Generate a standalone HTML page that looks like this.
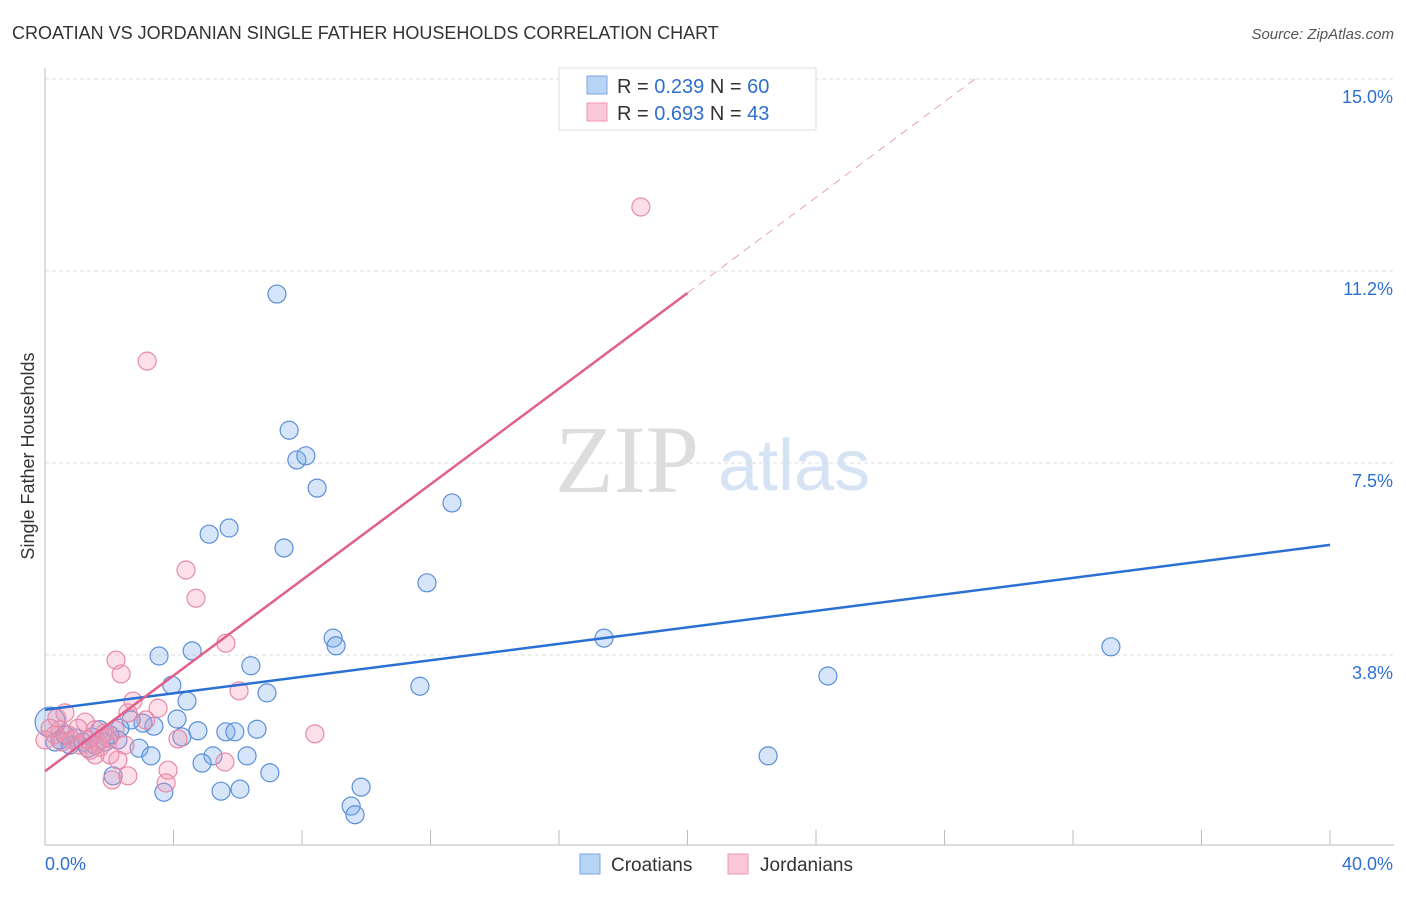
<!DOCTYPE html>
<html><head><meta charset="utf-8"><style>
body{margin:0;background:#fff;font-family:"Liberation Sans",sans-serif}
svg text{font-family:"Liberation Sans",sans-serif}
</style></head><body>
<svg id="c" width="1406" height="892">
<text x="12" y="39" font-size="18" fill="#333">CROATIAN VS JORDANIAN SINGLE FATHER HOUSEHOLDS CORRELATION CHART</text>
<text x="1394" y="39" font-size="15" fill="#555" font-style="italic" text-anchor="end">Source: ZipAtlas.com</text>
<text x="34" y="456" font-size="18" fill="#333" text-anchor="middle" transform="rotate(-90 34 456)">Single Father Households</text>
<g>
<text x="555" y="492" font-size="96" fill="#ddd" font-family="Liberation Serif" style="font-family:'Liberation Serif',serif">ZIP</text>
<text x="718" y="490" font-size="72" fill="#d5e3f5">atlas</text></g>
<g id="grid"></g><g id="axes"></g><g id="pts"></g><g id="lines"></g>
<g>
<rect x="559" y="68" width="257" height="62" fill="#fff" stroke="#ddd"/>
<rect x="587" y="76" width="20" height="18" fill="#b8d4f5" stroke="#7aa6e0"/>
<rect x="587" y="103" width="20" height="18" fill="#fac8d8" stroke="#ee9ab6"/>
<text x="617" y="93" font-size="20" fill="#333">R = <tspan fill="#2f6fd0">0.239</tspan>   N = <tspan fill="#2f6fd0">60</tspan></text>
<text x="617" y="120" font-size="20" fill="#333">R = <tspan fill="#2f6fd0">0.693</tspan>   N = <tspan fill="#2f6fd0">43</tspan></text>
</g>
<g>
<rect x="580" y="854" width="20" height="20" fill="#b8d4f5" stroke="#7aa6e0"/>
<text x="611" y="871" font-size="19" fill="#333">Croatians</text>
<rect x="728" y="854" width="20" height="20" fill="#fac8d8" stroke="#ee9ab6"/>
<text x="760" y="871" font-size="19" fill="#333">Jordanians</text>
</g>
</svg>
<script>
const yTicks=[3.75,7.5,11.25,15];
const yTickLabels=["3.8%","7.5%","11.2%","15.0%"];
const xTicks=[0,4,8,12,16,20,24,28,32,36,40];
const blueX=[7.22,7.60,7.84,8.12,8.47,12.67,5.11,5.73,7.44,11.89,17.40,33.18,8.97,9.06,3.55,4.58,6.41,3.95,4.42,6.91,11.67,24.37,22.51,4.11,4.76,5.63,5.91,6.60,4.26,3.39,3.05,2.68,2.33,2.27,1.71,1.46,2.93,3.30,5.23,6.29,4.89,7.00,2.12,3.70,5.48,6.07,9.84,9.53,9.65,0.16,0.31,0.47,0.78,0.93,1.18,1.34,1.56,1.87,0.62,2.02];
const blueY=[10.80,8.14,7.56,7.64,7.01,6.72,6.11,6.23,5.84,5.16,4.08,3.91,4.08,3.93,3.73,3.83,3.54,3.16,2.85,3.01,3.14,3.34,1.78,2.50,2.27,2.25,2.25,2.30,2.15,2.36,2.42,2.48,2.32,2.09,2.29,2.15,1.93,1.78,1.78,1.78,1.64,1.45,1.39,1.07,1.09,1.13,1.17,0.80,0.63,2.44,2.05,2.09,1.99,2.13,2.05,1.93,1.99,2.05,2.19,2.19];
const pinkX=[18.55,3.18,4.39,4.70,5.63,2.21,2.37,6.04,2.74,3.52,3.14,2.58,8.40,4.14,0.37,0.62,1.25,1.56,1.87,0.47,0.84,1.09,1.40,1.71,2.02,2.27,2.49,0.31,0.16,3.83,3.77,2.09,2.58,5.60,0.72,1.03,1.34,1.65,1.96,0.0,0.53,2.18,1.56];
const pinkY=[12.50,9.49,5.41,4.86,3.98,3.65,3.38,3.05,2.85,2.71,2.48,2.62,2.21,2.11,2.52,2.62,2.44,2.29,2.23,2.29,2.09,1.99,1.89,1.95,1.80,1.70,1.99,2.19,2.32,1.50,1.25,1.31,1.39,1.66,2.19,2.32,2.09,2.05,2.13,2.09,2.05,2.29,1.80];
const blueTrend=[2.68,5.90];
const pinkTrend=[1.48,0.467];
const X=v=>45+v*32.125, Y=v=>847-v*51.2;
const NS="http://www.w3.org/2000/svg";
function mk(t,a,p){const e=document.createElementNS(NS,t);for(const k in a)e.setAttribute(k,a[k]);p.appendChild(e);return e;}
const grid=document.getElementById('grid'),axes=document.getElementById('axes'),pts=document.getElementById('pts'),lines=document.getElementById('lines');
yTicks.forEach((t,i)=>{
 const g=mk('line',{x1:45,x2:1394,y1:Y(t),y2:Y(t),stroke:'#ddd','stroke-dasharray':'4,3'},grid);
 
 
 const l=mk('text',{x:1393,y:Y(t)+24,'font-size':18,fill:'#2f6fd0','text-anchor':'end'},axes);l.textContent=yTickLabels[i];
 
 
});
mk('line',{x1:45,x2:45,y1:68,y2:845,stroke:'#bbb'},axes);
mk('line',{x1:45,x2:1394,y1:845,y2:845,stroke:'#bbb'},axes);
xTicks.forEach(t=>{const k=mk('line',{x1:X(t),x2:X(t),y1:830,y2:845,stroke:'#bbb'},axes);
 
 });
const xl0=mk('text',{x:45,y:870,'font-size':18,fill:'#2f6fd0'},axes);xl0.textContent="0.0%";


const xl1=mk('text',{x:1393,y:870,'font-size':18,fill:'#2f6fd0','text-anchor':'end'},axes);xl1.textContent="40.0%";


blueX.forEach((v,i)=>{const c=mk('circle',{cx:X(v),cy:Y(blueY[i]),r:i==49?15:9,fill:'rgba(120,170,235,0.3)',stroke:'#5b8fd8','stroke-width':1.2},pts);
 
 });
pinkX.forEach((v,i)=>{const c=mk('circle',{cx:X(v),cy:Y(pinkY[i]),r:9,fill:'rgba(245,150,180,0.3)',stroke:'#e88aa8','stroke-width':1.2},pts);
 
 });
const bl=mk('line',{x1:X(0),y1:Y(blueTrend[0]),x2:X(40),y2:Y(blueTrend[1]),stroke:'#2a6fd4','stroke-width':2.5},lines);


const pe=(15-pinkTrend[0])/pinkTrend[1];
const pl=mk('line',{x1:X(0),y1:Y(pinkTrend[0]),x2:X(20),y2:Y(pinkTrend[0]+20*pinkTrend[1]),stroke:'#e0608a','stroke-width':2.5},lines);


const pd=mk('line',{x1:X(20),y1:Y(pinkTrend[0]+20*pinkTrend[1]),x2:X(pe),y2:Y(15),stroke:'#e8a0b8','stroke-width':1,'stroke-dasharray':'8,6'},lines);


</script>
</body></html>
